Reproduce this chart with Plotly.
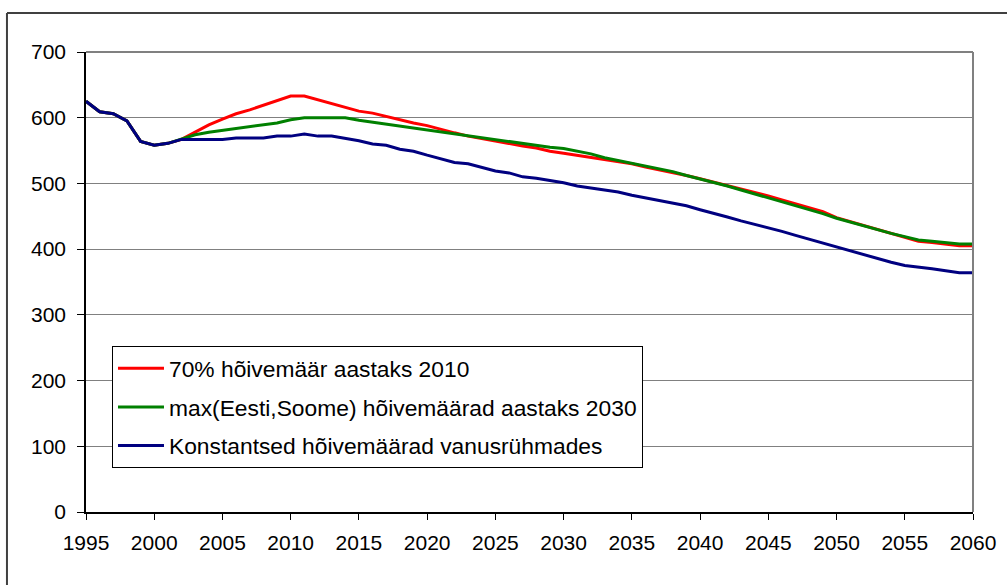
import plotly.graph_objects as go

years = list(range(1995, 2061))

# Tööga hõivatud (tuhat) – kolm stsenaariumi
target_70_2010 = [
    625, 609, 606, 595, 564, 558, 561, 567, 578, 589,
    598, 606, 612, 619, 627, 633, 633, 627, 621, 615,
    610, 607, 602, 596, 592, 588, 582, 577, 572, 568,
    564, 560, 557, 554, 549, 546, 543, 539, 536, 533,
    530, 525, 521, 517, 512, 507, 502, 497, 492, 487,
    481, 475, 469, 463, 457, 448, 442, 436, 430, 424,
    417, 412, 410, 407, 405, 405,
]
max_est_fin_2030 = [
    625, 609, 606, 595, 564, 558, 561, 567, 574, 578,
    581, 583, 586, 589, 592, 597, 600, 600, 600, 600,
    596, 593, 590, 587, 584, 581, 579, 576, 572, 569,
    567, 564, 561, 558, 555, 553, 549, 545, 539, 535,
    530, 526, 523, 518, 512, 507, 502, 496, 490, 484,
    478, 473, 466, 460, 454, 447, 441, 435, 430, 424,
    419, 414, 412, 410, 408, 408,
]
constant_rates = [
    625, 609, 606, 595, 564, 558, 561, 567, 567, 567,
    567, 569, 569, 569, 572, 572, 575, 572, 572, 569,
    565, 560, 558, 552, 549, 543, 538, 532, 530, 524,
    519, 516, 510, 508, 505, 501, 496, 493, 490, 487,
    482, 478, 474, 469, 466, 460, 455, 449, 443, 438,
    432, 427, 421, 415, 409, 403, 398, 392, 386, 380,
    375, 373, 370, 367, 364, 364,
]

series_names = [
    "70% hõivemäär aastaks 2010",
    "max(Eesti,Soome) hõivemäärad aastaks 2030",
    "Konstantsed hõivemäärad vanusrühmades",
]
series_values = [target_70_2010, max_est_fin_2030, constant_rates]
series_colors = ["#FF0000", "#008000", "#000080"]

y_ticks = [0, 100, 200, 300, 400, 500, 600, 700]
x_ticks = [1995, 2000, 2005, 2010, 2015, 2020, 2025, 2030,
           2035, 2040, 2045, 2050, 2055, 2060]

FONT = "Liberation Sans, Arial, sans-serif"

fig = go.Figure()
for i, (name, vals, col) in enumerate(zip(series_names, series_values, series_colors)):
    fig.add_trace(go.Scatter(
        x=years, y=vals, name=name, mode="lines",
        line=dict(color=col, width=3),
        legendgroup=f"g{i}",
    ))

fig.update_layout(
    width=1007, height=585,
    margin=dict(l=86, r=34, t=52, b=73),
    paper_bgcolor="white",
    plot_bgcolor="white",
    font=dict(family=FONT, color="black", size=21),
    showlegend=True,
    legend=dict(
        x=0.0293, y=0.3609, xanchor="left", yanchor="top",
        bgcolor="white", bordercolor="black", borderwidth=1,
        font=dict(family=FONT, size=22.8, color="black"),
        itemwidth=46,
        traceorder="grouped",
        tracegroupgap=6,
    ),
    xaxis=dict(
        range=[1995, 2060],
        tickmode="array", tickvals=x_ticks,
        ticks="outside", ticklen=6, tickcolor="black", tickwidth=1,
        showline=True, linecolor="black", linewidth=1.5,
        showgrid=False, zeroline=False,
        tickfont=dict(family=FONT, size=21, color="black"),
        ticklabelstandoff=5,
    ),
    yaxis=dict(
        range=[0, 700],
        tickmode="array", tickvals=y_ticks,
        ticks="outside", ticklen=7, tickcolor="black", tickwidth=1,
        showline=True, linecolor="black", linewidth=1.5,
        showgrid=True, gridcolor="#808080", gridwidth=1,
        zeroline=False,
        tickfont=dict(family=FONT, size=21, color="black"),
        ticklabelstandoff=7,
    ),
    shapes=[
        # plot-area frame on top and right
        dict(type="line", xref="paper", yref="paper", x0=0, x1=1, y0=1, y1=1,
             line=dict(color="#808080", width=2)),
        dict(type="line", xref="paper", yref="paper", x0=1, x1=1, y0=0, y1=1,
             line=dict(color="#808080", width=2)),
        # outer chart frame
        dict(type="line", xref="paper", yref="paper", x0=-0.0891, x1=1.06,
             y0=1.0848, y1=1.0848, line=dict(color="black", width=1.5)),
        dict(type="line", xref="paper", yref="paper", x0=-0.0891, x1=-0.0891,
             y0=-0.2, y1=1.0848, line=dict(color="#404040", width=2)),
    ],
)

fig.write_html("out.html")
